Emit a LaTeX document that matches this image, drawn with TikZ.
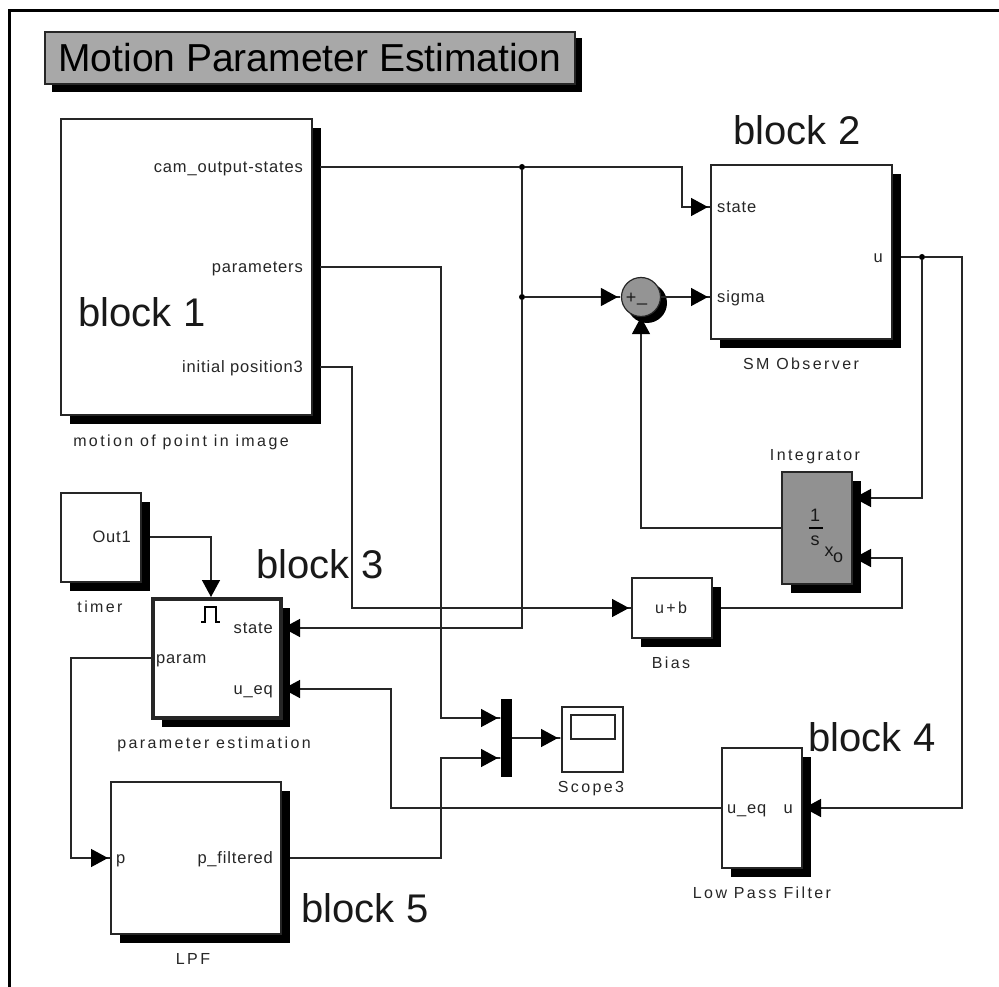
\documentclass[tikz,border=0pt]{standalone}
\usepackage{fontspec}
\setmainfont{Liberation Sans}
\newfontfamily\portfont[LetterSpace=5]{Liberation Sans}
\newfontfamily\capfont[LetterSpace=15]{Liberation Sans}
\usetikzlibrary{arrows.meta}
\tikzset{
  x=1pt,y=-1pt,
  wire/.style={line width=1.4pt,draw=black!85},
  arr/.style={wire,-{Triangle[length=17pt,width=18pt,color=black,fill=black]Rectangle[length=3pt,width=1.4pt,color=black!85,fill=black!85]}},
  arrin/.style={wire,-{Triangle[length=17pt,width=18pt,color=black,fill=black]}},
  blockbox/.style={draw=black!85,fill=white,line width=1.6pt},
  shade/.style={fill=black},
  lab/.style={font=\portfont\fontsize{16.5}{17}\selectfont,inner sep=0pt,text=black!85,text height=13pt,text depth=2pt},
  caplab/.style={font=\capfont\fontsize{16}{17}\selectfont,inner sep=0pt,text=black!85,text height=13pt,text depth=2pt},
  iconlab/.style={font=\fontsize{18}{18}\selectfont,inner sep=0pt,text=black!90},
  biglab/.style={font=\fontsize{40}{41}\selectfont,inner sep=0pt,text=black!90},
  jun/.style={circle,fill=black,inner sep=0pt,minimum size=6pt},
}
\newcommand{\blk}[7][blockbox]{% style, name, l, t, r, b, text
  \fill[shade] (#3+9,#4+9) rectangle (#5+9,#6+9);
  \node[#1,anchor=north west,minimum width=#5-#3,minimum height=#6-#4,inner sep=0pt,outer sep=0pt] (#2) at (#3,#4) {#7};
}
\begin{document}
\begin{tikzpicture}
\useasboundingbox (0,0) rectangle (999,987);
\fill[white] (0,0) rectangle (999,987);
\coordinate (fb) at (9,987);
\coordinate (fc) at (9,11);
\coordinate (fr) at (999,11);
\draw[line width=3pt] (fb) -- (fc) -- (fr);
% title
\fill[shade] (52,38) rectangle (582,92);
\node[draw=black!85,fill=black!34,line width=1.6pt,minimum width=530pt,minimum height=52pt,anchor=north west,inner sep=0pt,font=\fontsize{39}{40}\selectfont] (title) at (44,31) {Motion Parameter Estimation};
% blocks
\blk{b1}{61}{119}{312}{415}{}
\blk{b2}{711}{165}{892}{339}{}
\blk{timer}{61}{493}{141}{582}{}
\blk[blockbox,line width=3.6pt]{pe}{153}{599}{281}{718}{}
\blk{lpf}{111}{782}{281}{934}{}
\blk{bias}{632}{578}{712}{638}{}
\blk{lp}{722}{748}{802}{868}{}
\blk[blockbox,fill=black!43]{integ}{782}{472}{852}{584}{}
% sum
\fill[shade] (647,303) circle (20);
\node[circle,draw=black!85,fill=black!42,line width=1.2pt,minimum size=39pt,inner sep=0pt] (sum) at (641,297) {};
\node[iconlab] (sump) at (631,298) {+};
\node[iconlab] (summ) at (642,303) {\_};
% mux
\node[fill=black,minimum width=11pt,minimum height=78pt,inner sep=0pt,anchor=north west] (mux) at (501,699) {};
% scope
\node[draw=black!85,fill=white,line width=1.6pt,minimum width=61pt,minimum height=65pt,inner sep=0pt,anchor=north west] (scope) at (561,706) {};
\node[draw=black!85,fill=white,line width=1.6pt,minimum width=44pt,minimum height=24pt,inner sep=0pt,anchor=north west] (scopein) at (570,714) {};
% junctions
\node[jun] (j1) at (522,167) {};
\node[jun] (j2) at (522,297) {};
\node[jun] (j3) at (922,257) {};
% routing coordinates
\coordinate (b1o1) at (320,167);
\coordinate (b1o2) at (320,267);
\coordinate (b1o3) at (320,367);
\coordinate (b2s) at (711,207);
\coordinate (b2g) at (711,297);
\coordinate (b2u) at (901,257);
\coordinate (i1) at (854,498);
\coordinate (i2) at (854,558);
\coordinate (bo) at (721,608);
\coordinate (bi) at (632,608);
\coordinate (pes) at (283,628);
\coordinate (peu) at (283,689);
\coordinate (pep) at (153,658);
\coordinate (pet) at (211,597);
\coordinate (to) at (150,537);
\coordinate (lpfp) at (111,858);
\coordinate (lpfo) at (290,858);
\coordinate (lpi) at (804,808);
\coordinate (lpo) at (722,808);
\coordinate (mi1) at (501,718);
\coordinate (mi2) at (501,758);
\coordinate (mo) at (512,738);
\coordinate (si) at (561,738);
% wires
\draw[wire] (b1o1) -- (j1);
\draw[arr] (j1) -| (682,207) -- (b2s);
\draw[wire] (j1) -- (j2);
\draw[arr] (j2) -- (sum.west);
\draw[arrin] (j2) |- (pes);
\draw[arr] (sum.east) -- (b2g);
\draw[wire] (b2u) -- (j3);
\draw[arrin] (j3) |- (i1);
\draw[arrin] (j3) -| (962,808) -- (lpi);
\draw[arrin] (integ.west) -| (sum.south);
\draw[arrin] (bo) -| (902,558) -- (i2);
\draw[arr] (b1o3) -| (352,608) -- (bi);
\draw[arr] (b1o2) -| (441,718) -- (mi1);
\draw[arr] (lpfo) -| (441,758) -- (mi2);
\draw[arr] (mo) -- (si);
\draw[arrin] (to) -| (pet);
\draw[arr] (pep) -| (71,858) -- (lpfp);
\draw[arrin] (lpo) -| (391,689) -- (peu);
% block text
\node[lab,anchor=east] (t1) at (303,167) {cam\_output-states};
\node[lab,anchor=east] (t2) at (303,267) {parameters};
\node[lab,anchor=east] (t3) at (303,367) {initial position3};
\node[caplab] (t4) at (181,441) {motion of point in image};
\node[lab,anchor=west] (t5) at (717,207) {state};
\node[lab,anchor=west] (t6) at (717,297) {sigma};
\node[lab,anchor=east] (t7) at (883,257) {u};
\node[caplab] (t8) at (801,364) {SM Observer};
\node[caplab] (t9) at (815,455) {Integrator};
\node[lab,anchor=east] (t10) at (131,537) {Out1};
\node[caplab] (t11) at (100,607) {timer};
\node[lab,anchor=east] (t12) at (273,628) {state};
\node[lab,anchor=west] (t13) at (156,658) {param};
\node[lab,anchor=east] (t14) at (273,689) {u\_eq};
\node[caplab] (t15) at (214,743) {parameter estimation};
\node[lab,anchor=west] (t16) at (116,858) {p};
\node[lab,anchor=east] (t17) at (273,858) {p\_filtered};
\node[caplab] (t18) at (193,959) {LPF};
\node[caplab] (t19) at (671,608) {u+b};
\node[caplab] (t20) at (671,663) {Bias};
\node[caplab] (t21) at (591,787) {Scope3};
\node[lab,anchor=west] (t22) at (727,808) {u\_eq};
\node[lab,anchor=east] (t23) at (793,808) {u};
\node[caplab] (t24) at (762,893) {Low Pass Filter};
% integrator icon
\node[iconlab] (i1t) at (815,515) {1};
\coordinate (ifl) at (809,528);
\coordinate (ifr) at (823,528);
\draw[line width=1.2pt] (ifl) -- (ifr);
\node[iconlab] (i2t) at (815,541) {s};
\node[iconlab] (i3t) at (829,552) {x};
\node[iconlab] (i4t) at (838,558) {o};
% pulse icon
\coordinate (p0) at (201,622);
\coordinate (p1) at (205,622);
\coordinate (p2) at (205,607);
\coordinate (p3) at (216,607);
\coordinate (p4) at (216,622);
\coordinate (p5) at (220,622);
\draw[line width=1.3pt] (p0) -- (p1) -- (p2) -- (p3) -- (p4) -- (p5);
% big labels
\node[biglab] (k1) at (142,312) {block 1};
\node[biglab] (k2) at (797,130) {block 2};
\node[biglab] (k3) at (320,564) {block 3};
\node[biglab] (k4) at (872,737) {block 4};
\node[biglab] (k5) at (365,908) {block 5};
\end{tikzpicture}
\end{document}
